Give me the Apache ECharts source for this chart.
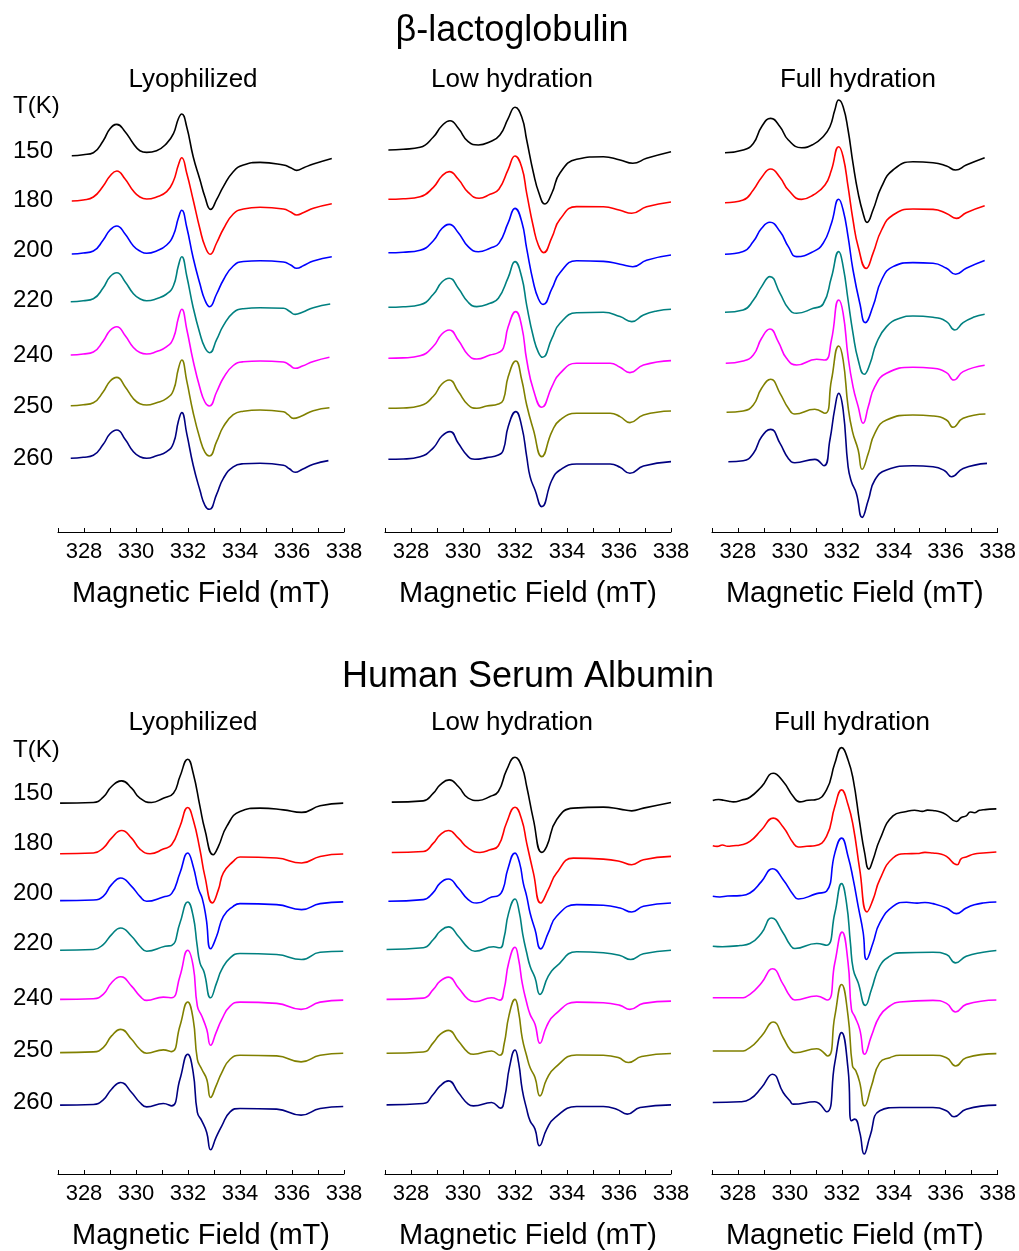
<!DOCTYPE html>
<html>
<head>
<meta charset="utf-8">
<title>EPR spectra vs temperature</title>
<script src="https://cdn.jsdelivr.net/npm/echarts@6/dist/echarts.min.js"></script>
<style>
  html, body { margin: 0; padding: 0; background: #fff; }
  #chart { width: 1019px; height: 1251px; }
</style>
</head>
<body>
<div id="chart"></div>
<script>
// ---- Temperatures (K) and trace colours ----
const temperatures = ['150', '180', '200', '220', '240', '250', '260'];
const traceColors = ['#000000', '#ff0000', '#0000ff', '#008080', '#ff00ff', '#808000', '#000080'];
const fieldTicks = [328, 330, 332, 334, 336, 338];

// ---- beta-lactoglobulin, lyophilized: [field (mT), signal] ----
const blgLyo150 = [[327.53,0],[327.97,1],[328.36,3],[328.74,15],[329.0,27],[329.26,31.3],[329.58,24],[329.9,12],[330.15,5],[330.41,3.3],[330.79,5],[331.18,12.3],[331.44,22],[331.63,37],[331.76,41.7],[331.95,29],[332.2,-1],[332.46,-24],[332.65,-41],[332.87,-53.7],[333.1,-44],[333.36,-31],[333.74,-16],[334.13,-9.3],[334.77,-6.7],[335.67,-9.3],[335.95,-12],[336.18,-14.7],[336.45,-12],[336.82,-8.3],[337.53,-2.7]];
const blgLyo180 = [[327.53,0],[327.97,1],[328.36,4],[328.74,15],[329.0,25],[329.26,30],[329.58,22],[329.9,10],[330.15,4],[330.41,2],[330.79,4],[331.18,9.3],[331.44,20],[331.63,36],[331.76,43.3],[331.95,28],[332.2,1],[332.46,-28],[332.65,-45],[332.85,-53.3],[333.1,-42],[333.36,-28],[333.74,-13],[334.13,-8],[334.77,-6.3],[335.67,-8],[335.95,-11],[336.18,-14],[336.45,-11.5],[336.82,-7.3],[337.53,-2.7]];
const blgLyo200 = [[327.53,0],[327.97,1],[328.36,3],[328.74,14],[329.0,24],[329.26,28],[329.58,20],[329.9,8],[330.15,3],[330.41,0.7],[330.79,3],[331.18,9],[331.44,19],[331.63,36],[331.76,43.7],[331.95,27],[332.2,-4],[332.46,-30],[332.65,-46],[332.83,-52.7],[333.1,-40],[333.36,-26],[333.74,-12],[334.13,-7.5],[334.77,-6.8],[335.67,-8],[335.95,-11],[336.18,-14.3],[336.45,-11.5],[336.82,-7],[337.53,-2.7]];
const blgLyo220 = [[327.49,0],[327.97,1],[328.36,3],[328.74,14],[329.0,25],[329.26,29],[329.58,20],[329.9,8],[330.15,3],[330.41,1],[330.79,3],[331.18,7.7],[331.44,16],[331.63,36],[331.76,45],[331.95,26],[332.2,-6],[332.46,-32],[332.65,-46],[332.83,-51],[333.1,-38],[333.36,-24],[333.74,-11],[334.13,-7],[334.77,-6],[335.67,-6.5],[335.9,-9.5],[336.12,-12.7],[336.4,-10.5],[336.82,-6],[337.47,-2.3]];
const blgLyo240 = [[327.49,0],[327.97,1],[328.36,3],[328.74,14],[329.0,24.5],[329.26,28.3],[329.58,19.5],[329.9,7.5],[330.15,2.5],[330.41,1],[330.79,3.5],[331.18,8.3],[331.44,17],[331.63,37],[331.76,45.7],[331.95,26],[332.2,-6],[332.46,-33],[332.65,-47],[332.82,-51],[333.1,-37],[333.36,-23],[333.74,-10.5],[334.13,-6.8],[334.77,-6],[335.67,-7],[335.9,-10],[336.12,-13.3],[336.4,-11],[336.82,-6.5],[337.44,-2.3]];
const blgLyo250 = [[327.49,0],[327.97,1],[328.36,3],[328.74,14],[329.0,24.5],[329.26,28.3],[329.58,19],[329.9,7],[330.15,2],[330.41,0.7],[330.79,3],[331.18,7.3],[331.44,15.5],[331.63,37],[331.76,45.7],[331.95,25],[332.2,-7],[332.46,-33],[332.65,-46.5],[332.82,-50.3],[333.1,-36],[333.36,-21],[333.74,-9],[334.13,-5.5],[334.77,-4.3],[335.67,-6],[335.85,-9],[336.06,-12.7],[336.35,-10.5],[336.82,-5],[337.44,-2]];
const blgLyo260 = [[327.49,0],[327.97,1],[328.36,3],[328.74,14],[329.0,24.5],[329.26,28.3],[329.58,19],[329.9,6.5],[330.15,1.5],[330.41,0],[330.79,2.5],[331.18,6.7],[331.44,15],[331.63,37],[331.76,45.7],[331.95,25],[332.2,-7],[332.46,-32],[332.65,-47],[332.82,-51],[333.1,-36],[333.36,-20],[333.74,-8.5],[334.13,-5.5],[334.77,-5],[335.67,-7],[335.9,-10.5],[336.12,-14],[336.4,-11],[336.82,-6],[337.4,-2.3]];

// ---- beta-lactoglobulin, low hydration ----
const blgLow150 = [[327.13,0],[327.7,0.7],[328.35,2.7],[328.86,13],[329.18,24],[329.5,29.3],[329.82,21.7],[330.2,8.3],[330.59,5],[331.04,8.3],[331.42,15],[331.74,31.7],[332.0,42.7],[332.26,33],[332.45,10],[332.71,-23],[332.92,-43],[333.15,-54],[333.42,-43],[333.73,-23],[334.37,-9.3],[335.4,-6.7],[336.04,-10],[336.53,-13.3],[337.06,-8.3],[338.0,-1.7]];
const blgLow180 = [[327.13,0],[327.7,0.5],[328.35,2.5],[328.86,12],[329.18,23],[329.47,27.7],[329.82,20],[330.2,7],[330.62,1],[331.04,5],[331.38,10],[331.74,30],[332.0,43.3],[332.26,32],[332.45,6],[332.71,-28],[332.9,-46],[333.1,-53.3],[333.42,-38],[333.73,-20],[334.37,-7.3],[335.4,-7.5],[336.04,-11],[336.49,-14],[337.06,-7.5],[338.0,-2.7]];
const blgLow200 = [[327.13,0],[327.7,0.5],[328.35,2.5],[328.86,12],[329.18,24],[329.47,28.3],[329.82,20],[330.2,6],[330.59,1],[331.04,4.5],[331.38,9.3],[331.74,30],[332.0,44.3],[332.26,31],[332.45,4],[332.71,-30],[332.9,-46],[333.08,-51.7],[333.42,-36],[333.73,-20],[334.37,-8],[335.4,-8.7],[336.04,-11.5],[336.53,-14],[337.06,-7.5],[338.0,-2.3]];
const blgLow220 = [[327.13,0],[327.7,0.5],[328.35,2.5],[328.86,13],[329.18,25],[329.47,29],[329.82,19],[330.2,5],[330.53,0.7],[331.04,4],[331.36,9],[331.74,30],[332.0,45.7],[332.26,30],[332.45,2],[332.71,-30],[332.9,-45],[333.06,-50],[333.42,-31],[333.73,-16],[334.37,-5.5],[335.4,-5],[336.04,-9.3],[336.49,-14.3],[336.94,-7.7],[337.45,-3.7],[338.0,-2]];
const blgLow240 = [[327.13,0],[327.7,0.4],[328.35,2.5],[328.86,12],[329.18,24],[329.47,28.3],[329.82,18],[330.2,3.3],[330.53,-0.7],[331.04,3.3],[331.36,5.7],[331.55,10],[331.74,31.7],[332.03,46.7],[332.26,31.7],[332.45,-1.7],[332.71,-31.7],[333.03,-49],[333.42,-28.3],[333.73,-15],[334.37,-5],[335.66,-5],[336.04,-9],[336.42,-14.3],[336.94,-6.7],[338.0,-2.3]];
const blgLow250 = [[327.13,0],[327.7,0.3],[328.35,2.5],[328.86,12],[329.18,24],[329.47,28.3],[329.82,16.7],[330.2,3.3],[330.53,0],[330.91,2.3],[331.36,4.3],[331.55,8.3],[331.74,31.7],[332.03,47.3],[332.26,28.3],[332.45,3.3],[332.71,-21.7],[333.03,-48.3],[333.42,-23.3],[333.73,-11.7],[334.37,-5],[335.66,-5],[336.04,-8.3],[336.42,-14.3],[336.94,-6.7],[338.0,-2.7]];
const blgLow260 = [[327.13,0],[327.7,0.3],[328.35,2.5],[328.86,11.5],[329.18,23],[329.5,27.7],[329.82,16],[330.2,2.7],[330.46,0],[330.91,1.7],[331.36,4.3],[331.55,9.3],[331.74,32.7],[332.03,47.7],[332.26,32.7],[332.45,2.7],[332.58,-17.3],[332.77,-30.7],[333.03,-47.3],[333.42,-20.7],[333.73,-10.7],[334.37,-4.7],[335.66,-4.7],[336.04,-8],[336.42,-14],[336.94,-6.7],[338.0,-2.3]];

// ---- beta-lactoglobulin, full hydration ----
const blgFull150 = [[327.5,0],[328.2,2.7],[328.59,9.3],[328.91,26],[329.26,34.3],[329.62,26],[329.94,12.7],[330.45,5],[330.9,8.3],[331.28,16],[331.54,26],[331.73,42.7],[331.88,52.7],[332.05,46],[332.24,22.7],[332.43,-10.7],[332.63,-40.7],[332.82,-60.7],[332.97,-69.7],[333.2,-57.3],[333.53,-34],[333.97,-17.3],[334.74,-9],[335.51,-10],[336.03,-13.3],[336.38,-17.3],[336.79,-12.3],[337.5,-5]];
const blgFull180 = [[327.5,0],[328.2,2.7],[328.59,12.7],[328.91,25.3],[329.26,33.7],[329.62,25.3],[329.94,12.7],[330.45,3.3],[330.9,7.7],[331.35,17.7],[331.6,32.7],[331.88,56],[332.05,46],[332.24,16],[332.43,-17.3],[332.63,-44],[332.94,-65.7],[333.2,-50.7],[333.53,-27.3],[333.97,-12.3],[334.74,-6.3],[335.51,-6.7],[336.03,-10.7],[336.41,-15.7],[336.79,-10],[337.5,-3]];
const blgFull200 = [[327.5,0],[328.2,2.7],[328.59,12.7],[328.91,26],[329.23,32],[329.62,22.7],[329.94,7.7],[330.26,-2.3],[330.9,2.7],[331.28,11],[331.6,31],[331.88,55],[332.05,44.3],[332.24,17.7],[332.43,-15.7],[332.7,-50],[332.9,-68.3],[333.2,-52],[333.53,-25.7],[333.97,-12.3],[334.74,-8.3],[335.51,-9],[336.03,-14],[336.38,-20],[336.79,-14],[337.5,-6.3]];
const blgFull220 = [[327.5,0],[328.2,2.3],[328.59,12],[328.91,25.7],[329.23,35.7],[329.62,19],[329.94,4],[330.26,-1],[330.9,4],[331.28,8.3],[331.6,35],[331.88,60.7],[332.05,45.7],[332.24,12.3],[332.43,-21],[332.63,-47.7],[332.86,-62],[333.09,-51],[333.33,-31],[333.72,-14.3],[334.23,-6],[334.74,-3.7],[335.51,-5],[336.03,-9.3],[336.35,-17.7],[336.67,-10.3],[337.06,-5],[337.5,-2]];
const blgFull240 = [[327.53,0],[328.2,2.3],[328.59,8.3],[328.91,25],[329.23,34.3],[329.55,21.7],[329.87,5],[330.26,-1.7],[331.03,4],[331.35,3.3],[331.6,23.3],[331.88,63.3],[332.05,50],[332.24,6.7],[332.43,-23.3],[332.63,-43.3],[332.82,-60],[333.02,-43.3],[333.27,-23.3],[333.72,-10],[334.74,-4],[335.51,-5],[336.03,-9.3],[336.31,-16.7],[336.67,-8.3],[337.5,-2]];
const blgFull250 = [[327.56,0],[328.2,1.3],[328.59,7.3],[328.91,24],[329.26,33],[329.62,19],[329.94,4],[330.19,-1.7],[330.96,3],[331.35,-1],[331.6,32.3],[331.88,66.3],[332.05,52.3],[332.24,5.7],[332.41,-19.3],[332.63,-37.7],[332.78,-57],[333.02,-41],[333.27,-21],[333.72,-7.7],[334.74,-2.7],[335.51,-3.7],[336.03,-7.7],[336.28,-15],[336.67,-6],[337.53,-1.7]];
const blgFull260 = [[327.63,0],[328.2,1],[328.59,8.3],[328.91,25],[329.26,32.3],[329.62,18.3],[329.94,3.3],[330.19,-1],[330.96,2.3],[331.31,-4],[331.54,21.7],[331.73,53.3],[331.88,68.3],[332.05,51.7],[332.24,-5],[332.37,-20],[332.56,-31.7],[332.78,-55.7],[333.02,-38.3],[333.27,-18.3],[333.72,-8.3],[334.74,-4],[335.51,-5],[335.96,-9],[336.22,-15],[336.67,-6.7],[337.59,-1.7]];

// ---- Human serum albumin, lyophilized ----
const hsaLyo150 = [[327.08,0],[328.36,0.7],[328.74,6],[329.06,16.7],[329.45,22.3],[329.83,15],[330.15,5],[330.6,0.7],[331.05,5],[331.44,10],[331.69,26.7],[331.99,44],[332.2,30],[332.46,-3.3],[332.65,-26.7],[332.97,-51.7],[333.17,-43.3],[333.49,-23.3],[334.0,-8.3],[334.77,-5],[335.67,-6.7],[336.37,-9.3],[337.08,-2.7],[337.97,0]];
const hsaLyo180 = [[327.08,0],[328.36,0.7],[328.74,5.7],[329.06,15.7],[329.45,23.3],[329.83,15.7],[330.15,4.7],[330.54,0],[331.05,4.7],[331.37,9],[331.69,27.3],[331.99,46.3],[332.2,34],[332.46,4],[332.65,-22.7],[332.94,-49.3],[333.17,-36],[333.36,-19.3],[333.74,-7.7],[334.0,-3.3],[335.41,-4.3],[336.37,-9.3],[337.08,-2.7],[337.97,-0.3]];
const hsaLyo200 = [[327.08,0],[328.36,0.7],[328.74,4.3],[329.06,16],[329.41,22.7],[329.83,14.3],[330.15,4.3],[330.41,-0.7],[331.05,3.7],[331.37,7],[331.69,27.7],[331.99,47.7],[332.2,34.3],[332.4,12],[332.55,2],[332.7,-18],[332.87,-48.3],[333.1,-35.7],[333.36,-15.7],[333.74,-5.7],[334.0,-3],[335.41,-4],[336.37,-9],[337.08,-3],[337.97,-1.3]];
const hsaLyo220 = [[327.08,0],[328.36,0.7],[328.74,5.7],[329.06,15.7],[329.41,22.3],[329.83,14],[330.15,4],[330.41,-1],[331.12,4],[331.37,4.7],[331.69,27.3],[331.99,48.3],[332.2,34],[332.35,5],[332.46,-12.7],[332.62,-22],[332.87,-47.7],[333.1,-32.7],[333.3,-19.3],[333.62,-7.7],[334.0,-3.3],[335.41,-4.3],[336.37,-9.3],[337.08,-2],[337.97,-1]];
const hsaLyo240 = [[327.08,0],[328.36,0.7],[328.74,5],[329.06,16.7],[329.41,22.7],[329.83,13.3],[330.15,3.3],[330.41,-1],[331.05,2.3],[331.37,1.7],[331.69,23.3],[331.99,49.3],[332.2,33.3],[332.36,-6.7],[332.53,-16.7],[332.72,-30],[332.87,-46],[333.08,-33.3],[333.3,-20],[333.62,-6.7],[334.0,-2.7],[335.41,-4],[336.35,-10],[337.08,-2.7],[337.97,-0.7]];
const hsaLyo250 = [[327.08,0],[328.36,0.7],[328.74,5],[329.06,16.7],[329.41,23.3],[329.83,13.3],[330.15,3.3],[330.41,-0.7],[331.05,2.7],[331.37,1],[331.69,26.7],[331.99,50.7],[332.2,33.3],[332.36,-6.7],[332.53,-16.7],[332.72,-26.7],[332.87,-45],[333.08,-33.3],[333.3,-20],[333.62,-6.7],[334.0,-2.7],[335.41,-3.3],[336.35,-9.3],[337.08,-2.7],[337.97,-0.7]];
const hsaLyo260 = [[327.08,0],[328.36,0.7],[328.74,5.3],[329.06,16],[329.41,22.7],[329.83,12.7],[330.15,2.7],[330.41,-1.7],[331.05,1.7],[331.37,-0.7],[331.69,26],[331.99,51],[332.2,32.7],[332.36,-7.3],[332.53,-15.7],[332.72,-27.3],[332.87,-44.7],[333.08,-32.3],[333.3,-20.7],[333.62,-6.7],[334.0,-3.3],[335.41,-4],[336.35,-10],[337.08,-3.3],[337.97,-1.3]];

// ---- Human serum albumin, low hydration ----
const hsaLow150 = [[327.26,0],[328.47,1.3],[328.86,9],[329.12,17.3],[329.47,22.3],[329.82,15.7],[330.2,4],[330.59,1.7],[331.04,5.7],[331.36,10.7],[331.68,32.3],[332.0,45],[332.26,35.7],[332.45,15.7],[332.71,-17.7],[333.03,-50.3],[333.22,-44.3],[333.6,-17.7],[334.24,-6],[335.4,-5],[336.04,-7],[336.49,-8.7],[336.94,-6],[338.0,-0.3]];
const hsaLow180 = [[327.26,0],[328.47,1],[328.86,9.3],[329.12,17.7],[329.44,22],[329.82,14.3],[330.2,4.3],[330.65,0],[331.04,2.7],[331.36,6.7],[331.68,30],[332.0,45.3],[332.26,32.7],[332.45,9.3],[332.71,-20.7],[332.99,-50.7],[333.28,-37.3],[333.6,-20.7],[334.24,-5.7],[335.4,-6.7],[336.04,-9],[336.49,-12.3],[336.94,-7.3],[338.0,-4]];
const hsaLow200 = [[327.13,0],[328.47,1.7],[328.86,9],[329.12,18.3],[329.44,22.3],[329.82,13.3],[330.2,1.7],[330.53,-1.7],[331.1,4.3],[331.36,5.7],[331.55,13],[331.72,32],[332.0,48.3],[332.18,38],[332.32,18],[332.45,5],[332.58,-11.7],[332.77,-28.3],[332.99,-47.7],[333.28,-31.7],[333.6,-15],[334.37,-3.3],[335.4,-4],[336.04,-6.7],[336.49,-10.7],[336.94,-5],[338.0,-1.7]];
const hsaLow220 = [[327.06,0],[328.47,1.7],[328.86,10],[329.12,18.3],[329.44,22.7],[329.82,13.3],[330.2,1.7],[330.46,-1.7],[331.17,2.7],[331.42,1.7],[331.58,12],[331.75,36],[332.0,50.7],[332.16,38],[332.3,15],[332.45,-3.3],[332.58,-16.7],[332.77,-28.3],[332.96,-45],[333.28,-26.7],[333.6,-16.7],[334.37,-2.3],[335.4,-3.3],[336.04,-6],[336.45,-10],[336.94,-4.3],[338.0,-0.7]];
const hsaLow240 = [[327.06,0],[328.47,1.3],[328.86,10],[329.12,18.3],[329.44,22.3],[329.82,11.7],[330.2,0],[330.46,-2.3],[331.1,1.7],[331.42,-0.7],[331.58,10],[331.76,37],[332.0,52.3],[332.14,40],[332.28,16],[332.45,-3.3],[332.58,-15],[332.77,-25],[332.96,-44],[333.22,-26.7],[333.54,-15],[334.37,-2.7],[335.4,-3.3],[336.04,-6],[336.42,-10],[336.94,-4],[338.0,-1.7]];
const hsaLow250 = [[327.06,0],[328.47,1.3],[328.86,10.7],[329.12,19],[329.44,23],[329.82,12.3],[330.2,0.7],[330.4,-1],[331.1,2.3],[331.42,-2],[331.58,9],[331.77,38],[332.0,54],[332.14,41],[332.28,15],[332.45,-2.7],[332.58,-14.3],[332.77,-24.3],[332.96,-42.7],[333.22,-26],[333.54,-14.3],[334.37,-1.7],[335.4,-2],[335.97,-4.3],[336.36,-9.3],[336.87,-3.3],[338.0,-0.3]];
const hsaLow260 = [[327.06,0],[328.47,1.3],[328.86,10.7],[329.12,19],[329.44,24],[329.82,12.3],[330.2,0.7],[330.4,-1],[331.1,2.3],[331.44,-3.3],[331.6,7],[331.79,38],[332.0,55],[332.14,42],[332.28,15],[332.45,-4.3],[332.58,-16],[332.77,-24.3],[332.94,-41],[333.22,-24.3],[333.54,-12.7],[334.37,-1.7],[335.4,-1.7],[335.91,-4.3],[336.32,-9.3],[336.81,-2.7],[338.0,0]];

// ---- Human serum albumin, full hydration ----
const hsaFull150 = [[327.03,0],[327.25,1],[327.45,0.3],[327.65,-0.7],[327.82,-1.3],[328.15,0.5],[328.46,3.3],[328.91,14],[329.36,27.3],[329.74,19],[330.13,4],[330.38,-1.3],[330.7,0.3],[330.96,0.7],[331.41,10.7],[331.73,37.3],[331.99,53],[332.24,40.7],[332.44,20.7],[332.69,-22.7],[332.88,-52.7],[333.04,-68.7],[333.2,-59.3],[333.46,-39.3],[333.97,-15.3],[334.49,-11],[334.8,-9.7],[335.1,-10.8],[335.3,-9.6],[335.51,-10],[335.8,-11.5],[336.03,-14.3],[336.41,-21],[336.6,-17],[336.79,-15.3],[336.95,-11.5],[337.1,-12.2],[337.3,-9.8],[337.44,-9.3],[337.7,-8.6],[337.95,-8.3]];
const hsaFull180 = [[327.03,0],[327.2,-0.6],[327.4,0.7],[327.6,-0.5],[327.82,0],[328.1,0.8],[328.46,4.3],[328.91,16],[329.36,27.7],[329.74,18.7],[330.13,2.7],[330.32,-1.3],[330.65,-0.5],[330.96,0],[331.41,9.3],[331.73,39.3],[331.99,56],[332.24,41],[332.44,19.3],[332.69,-24],[332.97,-66.3],[333.2,-54],[333.46,-34],[333.97,-12.3],[334.49,-8],[334.9,-7.8],[335.2,-6.6],[335.51,-7.3],[335.8,-8.3],[336.03,-10.7],[336.44,-19],[336.6,-12.8],[336.79,-11.3],[337.1,-8.2],[337.44,-7.3],[337.95,-6.3]];
const hsaFull200 = [[327.03,0],[327.3,-0.6],[327.6,0.3],[328.08,0.7],[328.46,3.3],[328.91,15],[329.33,27.7],[329.74,16.7],[330.13,1.7],[330.32,-2.7],[331.03,2.7],[331.41,5],[331.73,43.3],[331.99,58.3],[332.24,40],[332.44,16.7],[332.63,-10],[332.82,-36],[332.95,-63.3],[333.2,-46.7],[333.46,-26.7],[333.97,-10],[334.49,-6],[334.9,-6.8],[335.2,-6.2],[335.51,-7.3],[336.03,-11.7],[336.41,-17.3],[336.79,-11.7],[337.1,-8.5],[337.44,-6.7],[337.95,-5.7]];
const hsaFull220 = [[327.03,0],[327.4,-0.5],[328.08,0.7],[328.46,2.7],[328.91,13.3],[329.29,28.3],[329.74,13.3],[330.0,1.7],[330.19,-2.3],[331.03,2.7],[331.41,1],[331.73,33.3],[331.99,62.7],[332.18,43.3],[332.33,3.3],[332.44,-23.3],[332.63,-36.7],[332.91,-59.3],[333.14,-43.3],[333.46,-20],[333.85,-10],[334.23,-6.7],[335.51,-6],[336.03,-8.3],[336.38,-16.7],[336.79,-10],[337.44,-6],[337.95,-4.3]];
const hsaFull240 = [[327.03,0],[328.08,0],[328.46,3.3],[328.91,15],[329.33,29],[329.74,13.3],[330.0,1.7],[330.19,-2.3],[331.03,1.7],[331.44,-2.3],[331.73,35],[332.01,65.7],[332.24,35],[332.37,-11.7],[332.5,-19],[332.69,-31.7],[332.88,-56.7],[333.14,-38.3],[333.46,-18.3],[333.85,-8.3],[334.23,-4.3],[335.51,-2.7],[336.03,-5.7],[336.38,-14.3],[336.79,-6.7],[337.95,-2.3]];
const hsaFull250 = [[327.03,0],[328.08,0],[328.46,3.3],[328.91,15],[329.36,29],[329.74,13.3],[330.0,1.7],[330.19,-1.7],[331.03,2.3],[331.45,-5],[331.73,35],[331.99,66.7],[332.24,35],[332.41,-15],[332.54,-20],[332.69,-31.7],[332.88,-55],[333.14,-35],[333.46,-11.7],[333.85,-6.7],[334.23,-4.3],[335.51,-4.3],[336.03,-6.7],[336.38,-15],[336.79,-6.7],[337.95,-2.7]];
const hsaFull260 = [[327.03,0],[328.08,0.7],[328.46,3.3],[328.91,15],[329.33,28.3],[329.74,10],[330.0,1.7],[330.13,-1.7],[330.96,0.7],[331.41,-9.3],[331.73,40],[331.99,70],[332.24,33.3],[332.37,-18.3],[332.5,-16.7],[332.69,-30],[332.86,-51.7],[333.09,-33.3],[333.46,-8.3],[334.23,-5],[335.51,-5],[336.03,-8.3],[336.32,-14.3],[336.79,-6.7],[337.95,-2.7]];

// ---- Vertical stacking offsets of each trace (signal units) ----
const stackBlgLyo  = [376.3, 331.0, 278.0, 230.3, 177.0, 126.3, 73.7];
const stackBlgLow  = [382.0, 332.7, 279.3, 224.7, 173.7, 123.7, 72.7];
const stackBlgFull = [379.3, 329.3, 277.7, 219.7, 168.7, 119.7, 70.3];
const stackHsaLyo  = [371.7, 321.0, 274.0, 224.3, 175.0, 121.7, 69.0];
const stackHsaLow  = [372.7, 322.3, 273.3, 225.0, 175.0, 121.0, 69.3];
const stackHsaFull = [374.3, 329.0, 278.3, 228.3, 176.7, 123.3, 71.7];

// ---- Panel assembly ----
const FONT = '"Liberation Sans", Arial, sans-serif';
const PANEL_W = 286, PANEL_H = 440;
const panelLefts = [58, 385, 712];
const rowTops = [92, 735];

const panels = [
  { row: 0, col: 0, curves: [blgLyo150, blgLyo180, blgLyo200, blgLyo220, blgLyo240, blgLyo250, blgLyo260], stack: stackBlgLyo },
  { row: 0, col: 1, curves: [blgLow150, blgLow180, blgLow200, blgLow220, blgLow240, blgLow250, blgLow260], stack: stackBlgLow },
  { row: 0, col: 2, curves: [blgFull150, blgFull180, blgFull200, blgFull220, blgFull240, blgFull250, blgFull260], stack: stackBlgFull },
  { row: 1, col: 0, curves: [hsaLyo150, hsaLyo180, hsaLyo200, hsaLyo220, hsaLyo240, hsaLyo250, hsaLyo260], stack: stackHsaLyo },
  { row: 1, col: 1, curves: [hsaLow150, hsaLow180, hsaLow200, hsaLow220, hsaLow240, hsaLow250, hsaLow260], stack: stackHsaLow },
  { row: 1, col: 2, curves: [hsaFull150, hsaFull180, hsaFull200, hsaFull220, hsaFull240, hsaFull250, hsaFull260], stack: stackHsaFull }
];

const grids = [], xAxes = [], yAxes = [], series = [];
panels.forEach((p, k) => {
  grids.push({ left: panelLefts[p.col], top: rowTops[p.row], width: PANEL_W, height: PANEL_H });
  xAxes.push({
    gridIndex: k, type: 'value', min: 327, max: 338, interval: 1,
    name: 'Magnetic Field (mT)', nameLocation: 'middle', nameGap: 47,
    nameTextStyle: { fontSize: 29, color: '#000', fontFamily: FONT },
    axisLine: { show: true, lineStyle: { color: '#000', width: 1 } },
    axisTick: { show: true, inside: true, length: 4, lineStyle: { color: '#000', width: 1 } },
    axisLabel: {
      color: '#000', fontSize: 22, fontFamily: FONT, margin: 9,
      formatter: v => (fieldTicks.indexOf(v) >= 0 ? String(v) : '')
    },
    splitLine: { show: false }
  });
  yAxes.push({ gridIndex: k, type: 'value', min: 0, max: PANEL_H, show: false });
  p.curves.forEach((curve, i) => {
    series.push({
      type: 'line', xAxisIndex: k, yAxisIndex: k,
      name: temperatures[i] + ' K',
      data: curve.map(([f, s]) => [f, p.stack[i] + s]),
      showSymbol: false, smooth: 0.5,
      lineStyle: { color: traceColors[i], width: 1.6 },
      itemStyle: { color: traceColors[i] },
      silent: true, animation: false
    });
  });
});

// ---- Text: titles, subtitles and temperature column ----
const text = (x, y, str, size, align) => ({
  type: 'text', x, y, silent: true,
  style: { text: str, fill: '#000', fontSize: size, fontFamily: FONT, align: align || 'center', verticalAlign: 'middle' }
});
const tempLabelY = [
  [151.7, 200, 250, 300.7, 355, 406.7, 458.3],
  [793, 843, 893, 943, 998, 1050, 1102]
];
const graphics = [
  text(512, 31, 'β-lactoglobulin', 36),
  text(528, 677, 'Human Serum Albumin', 36),
  text(193, 80, 'Lyophilized', 26), text(512, 80, 'Low hydration', 26), text(858, 80, 'Full hydration', 26),
  text(193, 723, 'Lyophilized', 26), text(512, 723, 'Low hydration', 26), text(852, 723, 'Full hydration', 26),
  text(13, 106, 'T(K)', 24, 'left'), text(13, 750, 'T(K)', 24, 'left')
];
tempLabelY.forEach(rowYs => rowYs.forEach((y, i) => graphics.push(text(53, y, temperatures[i], 24, 'right'))));

const chart = echarts.init(document.getElementById('chart'), null, { renderer: 'canvas' });
chart.setOption({
  backgroundColor: '#ffffff',
  animation: false,
  grid: grids, xAxis: xAxes, yAxis: yAxes, series: series,
  graphic: graphics
});
</script>
</body>
</html>
